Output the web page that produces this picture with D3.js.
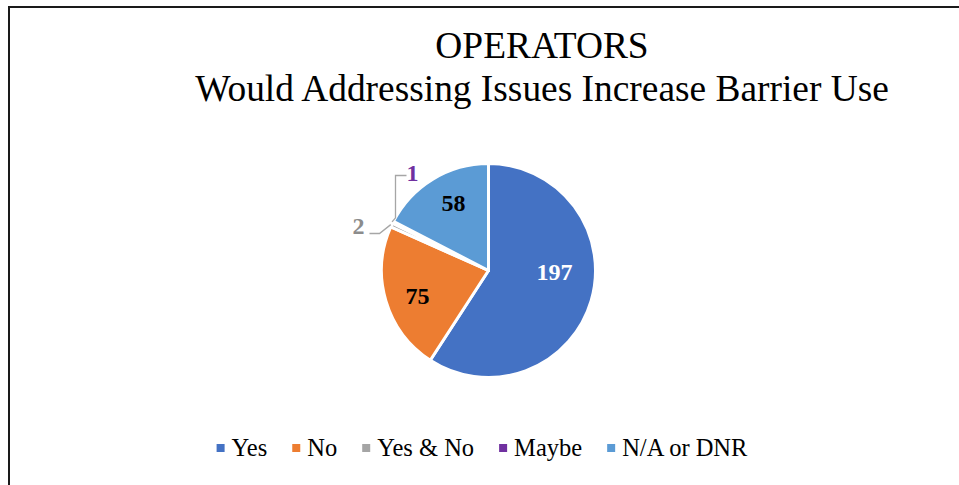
<!DOCTYPE html>
<html><head><meta charset="utf-8">
<script src="https://cdn.jsdelivr.net/npm/d3@7"></script>
<style>
html,body{margin:0;padding:0;background:#fff;}
svg{display:block;font-family:"Liberation Serif","Times New Roman",serif;}
</style></head>
<body>
<svg id="chart" width="959" height="485"></svg>
<script>
// ---- data ----
const categories = ["Yes", "No", "Yes & No", "Maybe", "N/A or DNR"];
const values = [197, 75, 2, 1, 58];
const colors = ["#4472C4", "#ED7D31", "#A5A5A5", "#7030A0", "#5B9BD5"];
const labelColors = ["#FFFFFF", "#000000", "#8C8C8C", "#7030A0", "#000000"];
const titleLines = ["OPERATORS", "Would Addressing Issues Increase Barrier Use"];

// ---- layout ----
const W = 959, H = 485;
const cx = 488.5, cy = 270.5, R = 107;
// label offsets from pie centre (layout only)
const labelOffset = [[66, 9], [-71, 33], [-130, -37], [-76, -90], [-35, -60]];

const svg = d3.select("#chart");
svg.append("rect").attr("x", 9).attr("y", 7).attr("width", 1200).attr("height", 1200)
  .attr("fill", "#fff").attr("stroke", "#1a1a1a").attr("stroke-width", 2);

// title
const title = svg.append("text").attr("text-anchor", "middle").attr("font-size", 37.4).attr("fill", "#000");
title.append("tspan").attr("x", 542).attr("y", 58).text(titleLines[0]);
title.append("tspan").attr("x", 542).attr("y", 101).text(titleLines[1]);

const pie = d3.pie().sort(null).startAngle(0).endAngle(2 * Math.PI)(values);
const arc = d3.arc().innerRadius(0).outerRadius(R);
const g = svg.append("g").attr("transform", `translate(${cx},${cy})`);
g.selectAll("path.slice").data(pie).join("path")
  .attr("class", "slice")
  .attr("d", arc)
  .attr("fill", (d, i) => colors[i])
  .attr("stroke", "#fff").attr("stroke-width", 3).attr("stroke-linejoin", "round");

// leader lines for small slices
function edgePoint(d) {
  const a = (d.startAngle + d.endAngle) / 2;
  return [(R + 1) * Math.sin(a), -(R + 1) * Math.cos(a)];
}
// Yes & No
{
  const p = edgePoint(pie[2]);
  const lo = labelOffset[2];
  const pts = [p, [lo[0] + 21, lo[1] + 0], [lo[0] + 11, lo[1] + 0]];
  g.append("polyline").attr("points", pts.map(q => q.join(",")).join(" "))
    .attr("fill", "none").attr("stroke", "#A6A6A6").attr("stroke-width", 1.3);
}
// Maybe
{
  const p = edgePoint(pie[3]);
  const lo = labelOffset[3];
  const pts = [p, [lo[0] - 17, p[1] - 4], [lo[0] - 17, lo[1] - 5], [lo[0] - 6, lo[1] - 5]];
  g.append("polyline").attr("points", pts.map(q => q.join(",")).join(" "))
    .attr("fill", "none").attr("stroke", "#A6A6A6").attr("stroke-width", 1.3);
}

g.selectAll("text.lbl").data(pie).join("text")
  .attr("class", "lbl")
  .attr("x", (d, i) => labelOffset[i][0])
  .attr("y", (d, i) => labelOffset[i][1])
  .attr("text-anchor", "middle")
  .attr("font-size", 24).attr("font-weight", "bold")
  .attr("fill", (d, i) => labelColors[i])
  .text(d => d.data);

// legend
const legend = svg.append("g");
let x = 0;
categories.forEach((c, i) => {
  const it = legend.append("g");
  it.append("rect").attr("x", x).attr("y", 444).attr("width", 8).attr("height", 8).attr("fill", colors[i]);
  const t = it.append("text").attr("x", x + 15).attr("y", 456).attr("font-size", 24.5).attr("fill", "#000").text(c);
  const w = t.node().getComputedTextLength();
  x += 15 + w + 25;
});
const total = x - 25;
legend.attr("transform", `translate(${482 - total / 2},0)`);
</script>
</body></html>
